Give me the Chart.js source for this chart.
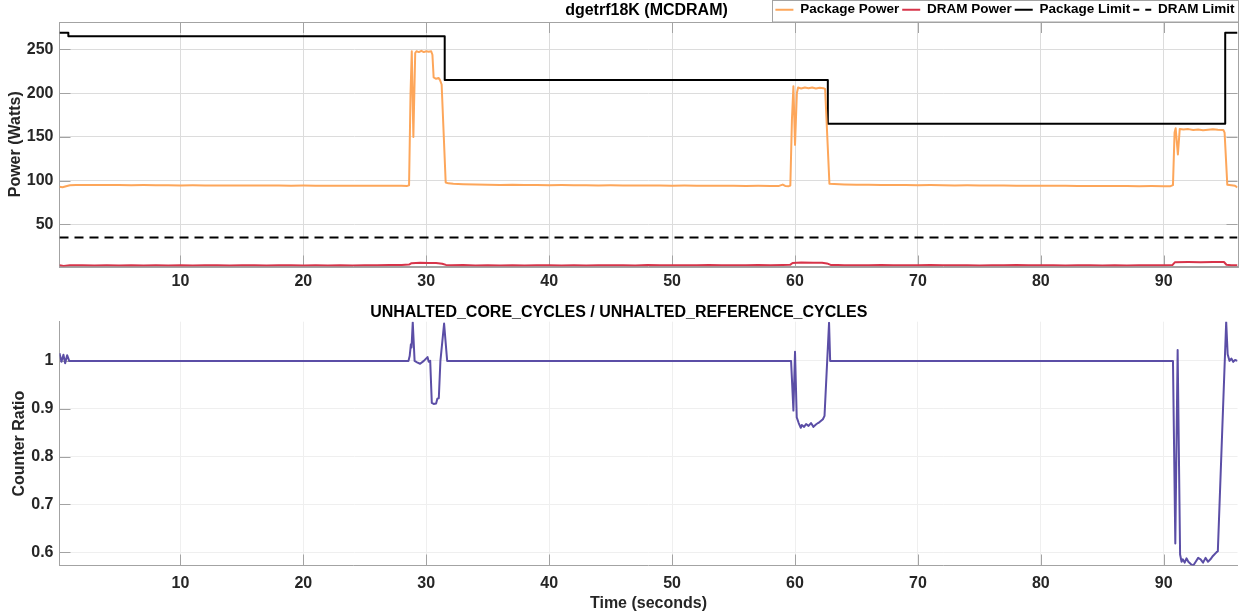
<!DOCTYPE html>
<html>
<head>
<meta charset="utf-8">
<script src="https://cdn.jsdelivr.net/npm/chart.js@4.4.1/dist/chart.umd.min.js"></script>
<style>
html,body{margin:0;padding:0;background:#fff;overflow:hidden;width:1239px;height:613px}
#top{position:absolute;left:0;top:0;width:1239px;height:296px}
#bot{position:absolute;left:0;top:296px;width:1239px;height:317px}
</style>
</head>
<body>
<div id="top"><canvas id="c1"></canvas></div>
<div id="bot"><canvas id="c2"></canvas></div>
<script>
// ---------- data ----------
const xTicks = [10, 20, 30, 40, 50, 60, 70, 80, 90];
const powerTicks = [50, 100, 150, 200, 250];
const ratioTicks = [0.6, 0.7, 0.8, 0.9, 1];
const ratioTickLabels = ['0.6', '0.7', '0.8', '0.9', '1'];
const timeRange = [0.16, 96];
const powerRange = [2, 281.4];
const ratioRange = [0.572, 1.082];

const seriesNames = ['Package Power', 'DRAM Power', 'Package Limit', 'DRAM Limit'];

const pkgTime = [0.16, 0.4, 0.7, 1.0, 1.5, 2, 3, 4, 5, 6, 7, 8, 9, 10, 11, 12, 13, 14, 15, 16, 17, 18, 19, 20, 21, 22, 23, 24, 25, 26, 27, 28, 28.45, 28.6, 28.72, 28.82, 28.95, 29.1, 29.2, 29.4, 29.6, 29.8, 30.0, 30.2, 30.4, 30.5, 30.6, 30.8, 31.0, 31.12, 31.25, 31.58, 31.8, 32.2, 33, 34, 35, 36, 37, 38, 39, 40, 41, 42, 43, 44, 45, 46, 47, 48, 49, 50, 51, 52, 53, 54, 55, 56, 57, 58, 58.7, 59.0, 59.2, 59.5, 59.62, 59.75, 59.87, 60.0, 60.15, 60.25, 60.5, 60.8, 61.1, 61.4, 61.7, 62.0, 62.3, 62.45, 62.8, 63.2, 64, 65, 66, 67, 68, 69, 70, 71, 72, 73, 74, 75, 76, 77, 78, 79, 80, 81, 82, 83, 84, 85, 86, 87, 88, 89, 90, 90.55, 90.75, 90.88, 90.97, 91.15, 91.3, 91.6, 92.0, 92.4, 92.8, 93.2, 93.6, 94.0, 94.4, 94.85, 94.95, 95.17, 95.5, 95.8, 96];
const pkgPower = [93.0, 92.6, 93.8, 94.8, 95.2, 95.0, 95.2, 95.0, 95.1, 94.9, 95.0, 94.8, 94.9, 94.7, 94.8, 94.7, 94.6, 94.7, 94.6, 94.5, 94.6, 94.5, 94.4, 94.5, 94.4, 94.3, 94.4, 94.3, 94.2, 94.4, 94.2, 94.3, 94.1, 94.8, 200, 248, 150, 246, 248, 247, 248.5, 247, 248, 247.5, 248, 244, 218, 216.5, 217.5, 215, 210, 98, 97, 96.5, 96, 95.6, 95.5, 95.2, 95.3, 95.0, 95.1, 94.9, 95.0, 94.8, 94.9, 94.7, 94.8, 94.6, 94.7, 94.5, 94.6, 94.4, 94.5, 94.3, 94.4, 94.2, 94.3, 94.1, 94.2, 94.0, 94.1, 95.6, 94.0, 93.8, 94.5, 170, 208, 141, 200, 206.5, 205.5, 206.5, 205.8, 206.5, 205.5, 206.3, 205.8, 205, 96.5, 96.2, 95.8, 95.5, 95.4, 95.2, 95.1, 95.0, 94.9, 95.0, 94.8, 94.7, 94.8, 94.6, 94.5, 94.6, 94.4, 94.3, 94.4, 94.2, 94.3, 94.1, 94.0, 94.1, 93.9, 94.0, 93.8, 93.9, 93.7, 93.8, 95.0, 155, 160, 130, 159, 158.5, 159, 158, 158.6, 157.8, 158.4, 158.9, 158.2, 158, 155, 95.5, 94.8, 94.2, 92.5];

const dramTime = [0.16, 0.5, 1, 2, 3, 4, 5, 6, 7, 8, 9, 10, 11, 12, 13, 14, 15, 16, 17, 18, 19, 20, 21, 22, 23, 24, 25, 26, 27, 28, 28.6, 28.8, 29.5, 30.2, 30.8, 31.3, 31.6, 32, 33, 34, 35, 36, 37, 38, 39, 40, 41, 42, 43, 44, 45, 46, 47, 48, 49, 50, 51, 52, 53, 54, 55, 56, 57, 58, 59, 59.6, 59.8, 60.5, 61.5, 62.2, 62.6, 62.9, 63.5, 64, 65, 66, 67, 68, 69, 70, 71, 72, 73, 74, 75, 76, 77, 78, 79, 80, 81, 82, 83, 84, 85, 86, 87, 88, 89, 90, 90.7, 90.9, 92, 93, 94, 94.9, 95.1, 95.5, 96];
const dramPower = [3.4, 2.6, 3.3, 3.4, 3.2, 3.3, 3.1, 3.4, 3.2, 3.3, 3.1, 3.4, 3.2, 3.3, 3.5, 3.2, 3.4, 3.3, 3.1, 3.4, 3.5, 3.2, 3.3, 3.1, 3.4, 3.2, 3.5, 3.3, 3.6, 3.8, 4.2, 5.8, 6.2, 6.1, 6.0, 5.2, 3.8, 3.3, 3.6, 3.2, 3.4, 3.1, 3.5, 3.2, 3.3, 3.4, 3.1, 3.3, 3.2, 3.5, 3.3, 3.4, 3.2, 3.6, 3.3, 3.5, 3.4, 3.3, 3.6, 3.4, 3.5, 3.3, 3.6, 3.5, 3.7, 3.9, 6.0, 6.5, 6.3, 6.2, 5.5, 3.8, 3.6, 3.3, 3.5, 3.4, 3.6, 3.3, 3.5, 3.4, 3.6, 3.3, 3.5, 3.4, 3.2, 3.5, 3.3, 3.6, 3.4, 3.3, 3.5, 3.2, 3.4, 3.3, 3.1, 3.4, 3.2, 3.3, 3.5, 3.3, 3.6, 6.8, 7.0, 6.9, 7.0, 7.1, 4.0, 3.5, 3.4];

const limitTime = [0.16, 0.88, 31.5, 62.67, 95.0, 96];
const pkgLimit = [269, 265, 215, 165, 269, 269];
const dramLimitTime = [0.16, 96];
const dramLimit = [35, 35];

const ratioTime = [0.16, 0.32, 0.48, 0.62, 0.78, 0.95, 28.55, 28.65, 28.75, 28.8, 28.9, 29.05, 29.25, 29.5, 29.8, 30.1, 30.2, 30.32, 30.45, 30.6, 30.8, 30.9, 31.02, 31.15, 31.45, 31.7, 59.68, 59.87, 60.0, 60.14, 60.3, 60.47, 60.55, 60.74, 60.9, 61.1, 61.3, 61.5, 61.7, 61.87, 62.0, 62.27, 62.4, 62.77, 62.86, 90.75, 90.94, 91.13, 91.33, 91.45, 91.55, 91.7, 91.85, 92.0, 92.2, 92.4, 92.6, 92.8, 93.0, 93.2, 93.4, 93.6, 93.8, 94.0, 94.3, 94.4, 95.08, 95.2, 95.35, 95.5, 95.65, 95.8, 96];
const ratioValue = [1.016, 0.998, 1.013, 0.995, 1.012, 1.0, 1.0, 1.01, 1.035, 1.028, 1.081, 1.0, 0.997, 0.994, 1.0, 1.008, 0.998, 1.0, 0.912, 0.91, 0.911, 0.921, 0.922, 1.0, 1.078, 1.0, 1.0, 0.896, 1.019, 0.882, 0.87, 0.86, 0.866, 0.862, 0.868, 0.864, 0.87, 0.862, 0.867, 0.87, 0.872, 0.878, 0.885, 1.08, 1.0, 1.0, 0.618, 1.023, 0.595, 0.58, 0.585, 0.578, 0.587, 0.58, 0.575, 0.572, 0.58, 0.588, 0.585, 0.578, 0.588, 0.58, 0.585, 0.592, 0.6, 0.602, 1.082, 1.014, 1.0, 1.005, 0.998, 1.002, 1.0];

// ---------- helpers ----------
const pts = (xs, ys) => xs.map((x, i) => ({x: x, y: ys[i]}));
const FONT = "'Liberation Sans', Arial, Helvetica, sans-serif";
Chart.defaults.font.family = FONT;
Chart.defaults.color = '#262626';

const AXIS = '#a3a3a3';

const frameTicks = {
  id: 'frameTicks',
  beforeDatasetsDraw(chart, args, o) {
    const ctx = chart.ctx, a = chart.chartArea, x = chart.scales.x, y = chart.scales.y;
    const L = o.len;
    ctx.save();
    ctx.strokeStyle = o.color;
    ctx.lineWidth = 1;
    ctx.beginPath();
    x.ticks.forEach(t => {
      const p = Math.round(x.getPixelForValue(t.value)) + 0.5;
      ctx.moveTo(p, a.bottom); ctx.lineTo(p, a.bottom - L);
      if (o.box) { ctx.moveTo(p, a.top); ctx.lineTo(p, a.top + L); }
    });
    y.ticks.forEach(t => {
      const p = Math.round(y.getPixelForValue(t.value)) + 0.5;
      ctx.moveTo(a.left, p); ctx.lineTo(a.left + L, p);
      if (o.box) { ctx.moveTo(a.right, p); ctx.lineTo(a.right - L, p); }
    });
    ctx.stroke();
    if (o.box) {
      ctx.strokeStyle = AXIS;
      ctx.strokeRect(Math.round(a.left) - 0.5, Math.round(a.top) + 0.5, Math.round(a.right - a.left) + 1, Math.round(a.bottom - a.top));
    }
    ctx.restore();
  }
};

const legendFrame = {
  id: 'legendFrame',
  afterDraw(chart) {
    const lg = chart.legend;
    if (!lg || !lg.legendHitBoxes || !lg.legendHitBoxes.length) return;
    const ctx = chart.ctx;
    const hb = lg.legendHitBoxes;
    const l = Math.round(hb[0].left - 3) + 0.5;
    const r = Math.round(chart.chartArea.right) + 0.5;
    ctx.save();
    ctx.strokeStyle = AXIS;
    ctx.lineWidth = 1;
    ctx.strokeRect(l, 0.5, r - l, Math.round(chart.chartArea.top) - 0.5);
    ctx.restore();
  }
};

const topTitle = {
  id: 'topTitle',
  afterDraw(chart, args, o) {
    const ctx = chart.ctx, a = chart.chartArea;
    ctx.save();
    ctx.font = 'bold 16px ' + FONT;
    ctx.fillStyle = '#000';
    ctx.textAlign = 'center';
    ctx.textBaseline = 'middle';
    ctx.fillText(o.text, (a.left + a.right) / 2 - 2, o.y);
    ctx.restore();
  }
};

const tickFont = {size: 16, weight: 'bold'};

const lineLegendLabels = (chart) => {
  const base = Chart.defaults.plugins.legend.labels.generateLabels(chart);
  return base.map((item) => {
    const ds = chart.data.datasets[item.datasetIndex];
    item.lineDash = ds.borderDash ? [6, 6] : [];
    item.lineWidth = ds.borderWidth;
    item.strokeStyle = ds.borderColor;
    item.fontColor = '#000';
    return item;
  });
};

// ---------- top chart ----------
new Chart(document.getElementById('c1'), {
  type: 'line',
  data: {
    datasets: [
      {label: seriesNames[0], data: pts(pkgTime, pkgPower), borderColor: '#fda65a', backgroundColor: '#fda65a', borderWidth: 2},
      {label: seriesNames[1], data: pts(dramTime, dramPower), borderColor: '#d7344a', backgroundColor: '#d7344a', borderWidth: 2},
      {label: seriesNames[2], data: pts(limitTime, pkgLimit), borderColor: '#000', backgroundColor: '#000', borderWidth: 2, stepped: true},
      {label: seriesNames[3], data: pts(dramLimitTime, dramLimit), borderColor: '#000', backgroundColor: '#000', borderWidth: 2, borderDash: [9, 6]}
    ]
  },
  options: {
    responsive: true, maintainAspectRatio: false, animation: false, devicePixelRatio: 1,
    layout: {padding: {left: 0, right: 1.5, top: 0, bottom: 0}},
    elements: {point: {radius: 0}, line: {tension: 0, borderJoinStyle: 'round', borderCapStyle: 'butt'}},
    plugins: {
      tooltip: {enabled: false},
      title: {display: false},
      legend: {
        display: true, position: 'top', align: 'end', maxHeight: 22,
        labels: {usePointStyle: true, pointStyle: 'line', pointStyleWidth: 18, boxHeight: 2, padding: 3,
                 color: '#000', font: {size: 13.5, weight: 'bold'}, generateLabels: lineLegendLabels}
      },
      frameTicks: {len: 11, color: AXIS, box: true},
      topTitle: {text: 'dgetrf18K (MCDRAM)', y: 11}
    },
    scales: {
      x: {
        type: 'linear', min: timeRange[0], max: timeRange[1],
        afterBuildTicks: s => { s.ticks = xTicks.map(v => ({value: v})); },
        afterFit: s => { s.height = 29.5; },
        ticks: {font: tickFont, padding: 5, maxRotation: 0, color: '#262626'},
        grid: {color: '#dcdcdc', drawTicks: false},
        border: {color: AXIS}
      },
      y: {
        type: 'linear', min: powerRange[0], max: powerRange[1],
        afterBuildTicks: s => { s.ticks = powerTicks.map(v => ({value: v})); },
        afterFit: s => { s.width = 59.5; },
        ticks: {font: tickFont, padding: 6, color: '#262626'},
        grid: {color: '#dcdcdc', drawTicks: false},
        border: {color: AXIS},
        title: {display: true, text: 'Power (Watts)', color: '#262626', font: {size: 16, weight: 'bold'}, padding: {top: 6, bottom: 0}}
      }
    }
  },
  plugins: [frameTicks, legendFrame, topTitle]
});

// ---------- bottom chart ----------
new Chart(document.getElementById('c2'), {
  type: 'line',
  data: {
    datasets: [
      {label: 'ratio', data: pts(ratioTime, ratioValue), borderColor: '#5b4ea6', backgroundColor: '#5b4ea6', borderWidth: 2}
    ]
  },
  options: {
    responsive: true, maintainAspectRatio: false, animation: false, devicePixelRatio: 1,
    layout: {padding: {left: 0, right: 1.5, top: 0, bottom: 0}},
    elements: {point: {radius: 0}, line: {tension: 0, borderJoinStyle: 'round'}},
    plugins: {
      tooltip: {enabled: false},
      legend: {display: false},
      title: {display: true, text: 'UNHALTED_CORE_CYCLES / UNHALTED_REFERENCE_CYCLES', color: '#000',
              font: {size: 16, weight: 'bold'}, padding: {top: 6.5, bottom: 0}},
      frameTicks: {len: 11, color: AXIS, box: false}
    },
    scales: {
      x: {
        type: 'linear', min: timeRange[0], max: timeRange[1],
        afterBuildTicks: s => { s.ticks = xTicks.map(v => ({value: v})); },
        afterFit: s => { s.height = 47.5; },
        ticks: {font: tickFont, padding: 8, maxRotation: 0, color: '#262626'},
        grid: {color: '#efefef', drawTicks: false},
        border: {color: AXIS},
        title: {display: true, text: 'Time (seconds)', color: '#262626', font: {size: 16, weight: 'bold'}, padding: {top: 0, bottom: 0}}
      },
      y: {
        type: 'linear', min: ratioRange[0], max: ratioRange[1],
        afterBuildTicks: s => { s.ticks = ratioTicks.map(v => ({value: v})); },
        afterFit: s => { s.width = 59.5; },
        ticks: {font: tickFont, padding: 6, color: '#262626',
                callback: (v) => { const i = ratioTicks.indexOf(v); return i >= 0 ? ratioTickLabels[i] : ''; }},
        grid: {color: '#efefef', drawTicks: false},
        border: {color: AXIS},
        title: {display: true, text: 'Counter Ratio', color: '#262626', font: {size: 16, weight: 'bold'}, padding: {top: 9.5, bottom: 0}}
      }
    }
  },
  plugins: [frameTicks]
});
</script>
</body>
</html>
